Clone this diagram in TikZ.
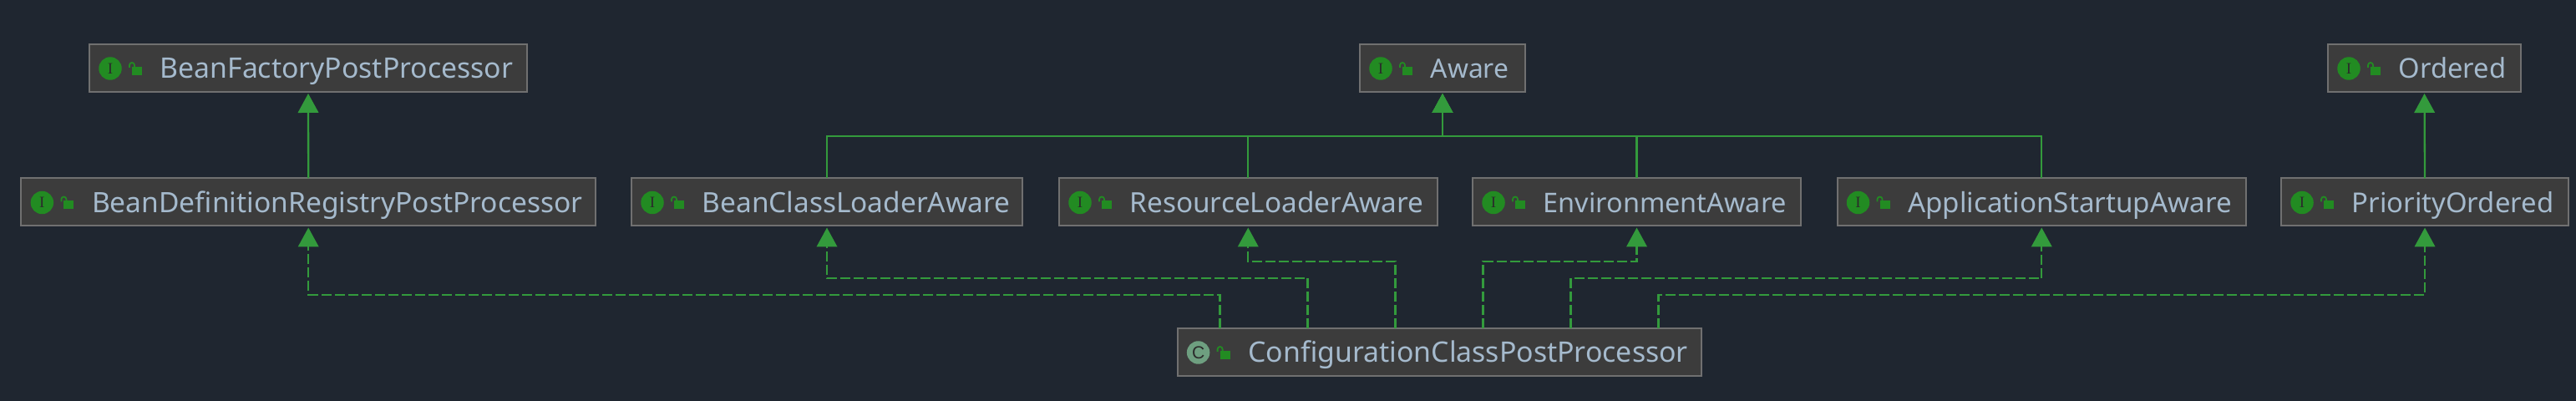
\documentclass[tikz,border=0pt]{standalone}
\usepackage{fontspec}
\setmainfont{Noto Sans}
\newfontfamily\iconifont{Liberation Serif}
\newfontfamily\iconcfont{Liberation Sans}
\usetikzlibrary{arrows.meta}
\definecolor{canvascol}{HTML}{1F2630}
\definecolor{boxcol}{HTML}{3C3C3C}
\definecolor{edgecol}{HTML}{707070}
\definecolor{textcol}{HTML}{A5BACD}
\definecolor{linecol}{HTML}{339A3C}
\definecolor{ifacecol}{HTML}{228B22}
\definecolor{classcol}{HTML}{6E9F80}
\definecolor{markcol}{HTML}{2B2B2B}
\tikzset{
	boxstyle/.style={draw=edgecol, fill=boxcol, line width=0.02cm, inner sep=0, outer sep=0, anchor=north west},
	namestyle/.style={text=textcol, inner sep=0, anchor=base west, font=\fontsize{9.5}{11}\selectfont},
	iconi/.style={circle, fill=ifacecol, text=markcol, inner sep=0, minimum size=0.275cm, font=\iconifont\fontsize{5.4}{6}\selectfont},
	iconc/.style={circle, fill=classcol, text=markcol, inner sep=0, minimum size=0.275cm, font=\iconcfont\fontsize{6}{6}\selectfont},
	extends/.style={draw=linecol, line width=0.023cm, shorten >=0.02cm, -{Triangle[length=0.23cm,width=0.245cm,fill=linecol]}},
	implements/.style={extends, dash pattern=on 0.12cm off 0.04cm},
}
\def\classbox[#1:#2](#3)(#4,#5)(#6,#7)#8{
	\node[boxstyle, minimum width=#6cm, minimum height=0.57cm] (#3) at (#4, #5) {};
	\begin{scope}[shift={(#3.north west)}]
		\node[#1] (#3-icon) at (0.25, -0.29) {#2};
		\fill[ifacecol] (0.51, -0.27) rectangle (0.63, -0.37);
		\draw[ifacecol, line width=0.018cm] (0.48, -0.28) -- (0.48, -0.25) arc (180:0:0.03) -- (0.54, -0.27);
		\node[namestyle] (#3-name) at (0.84, -0.41) {\resizebox{#7cm}{!}{#8}};
	\end{scope}
}

\begin{document}
\begin{tikzpicture}
	\useasboundingbox[fill=canvascol] (0, 0) rectangle (30.84, 4.8);
	
	%%%%% TOP ROW %%%%%
	\classbox[iconi:I](factory)(1.07, 4.27)(5.24, 4.225){BeanFactoryPostProcessor};
	\classbox[iconi:I](aware)(16.28, 4.27)(1.98, 0.935){Aware};
	\classbox[iconi:I](ordered)(27.87, 4.27)(2.31, 1.285){Ordered};
	
	%%%%% MIDDLE ROW %%%%%
	\classbox[iconi:I](registry)(0.254, 2.665)(6.876, 5.875){BeanDefinitionRegistryPostProcessor};
	\classbox[iconi:I](classloader)(7.56, 2.665)(4.68, 3.685){BeanClassLoaderAware};
	\classbox[iconi:I](resource)(12.68, 2.665)(4.525, 3.515){ResourceLoaderAware};
	\classbox[iconi:I](environment)(17.63, 2.665)(3.93, 2.915){EnvironmentAware};
	\classbox[iconi:I](startup)(21.995, 2.665)(4.895, 3.875){ApplicationStartupAware};
	\classbox[iconi:I](priority)(27.31, 2.665)(3.44, 2.415){PriorityOrdered};
	
	%%%%% BOTTOM ROW %%%%%
	\classbox[iconc:C](config)(14.096, 0.87)(6.27, 5.265){ConfigurationClassPostProcessor};
	
	%%%%% SOLID EDGES %%%%%
	\draw[extends] (registry.north) -- (factory.south);
	\draw[extends] (priority.north) -- (ordered.south);
	\draw[extends] (classloader.north) -- ++(0, 0.505) -| (aware.south);
	\draw[extends] (resource.north) -- ++(0, 0.505) -| (aware.south);
	\draw[extends] (environment.north) -- ++(0, 0.505) -| (aware.south);
	\draw[extends] (startup.north) -- ++(0, 0.505) -| (aware.south);
	
	%%%%% DASHED EDGES %%%%%
	\draw[implements] ([xshift=-2.625cm]config.north) -- ++(0, 0.4) -| (registry.south);
	\draw[implements] ([xshift=-1.575cm]config.north) -- ++(0, 0.6) -| (classloader.south);
	\draw[implements] ([xshift=-0.525cm]config.north) -- ++(0, 0.8) -| (resource.south);
	\draw[implements] ([xshift=0.525cm]config.north) -- ++(0, 0.8) -| (environment.south);
	\draw[implements] ([xshift=1.575cm]config.north) -- ++(0, 0.6) -| (startup.south);
	\draw[implements] ([xshift=2.625cm]config.north) -- ++(0, 0.4) -| (priority.south);
\end{tikzpicture}
\end{document}
